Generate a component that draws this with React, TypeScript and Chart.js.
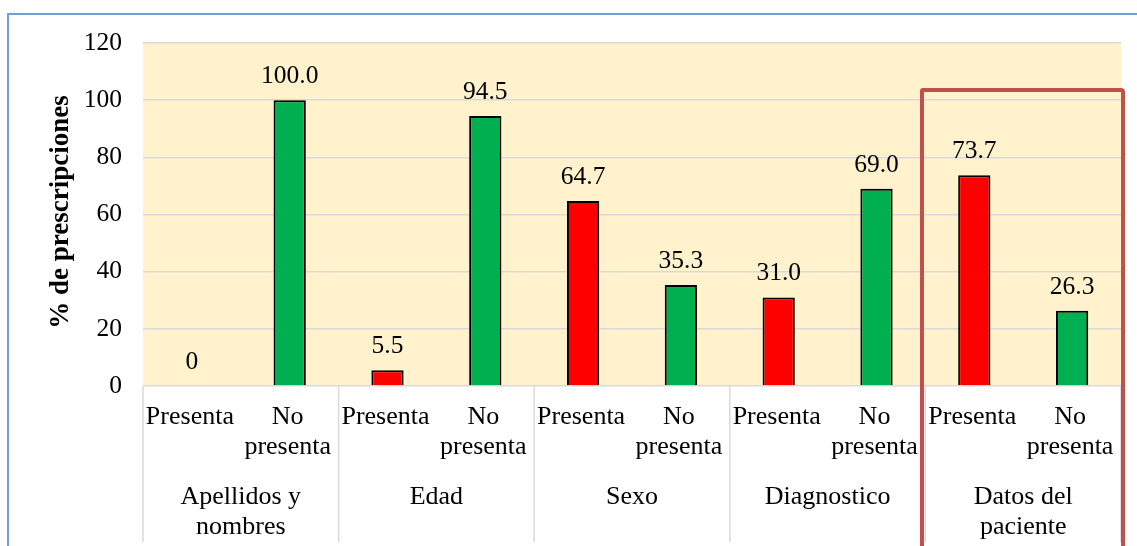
import React, { useEffect, useRef } from "react";
import { Chart, registerables } from "chart.js";

Chart.register(...registerables);

const groups: string[][] = [
  ["Apellidos y", "nombres"],
  ["Edad"],
  ["Sexo"],
  ["Diagnostico"],
  ["Datos del", "paciente"],
];
const subLabels: string[][] = [["Presenta"], ["No", "presenta"]];
const values: number[] = [0, 100.0, 5.5, 94.5, 64.7, 35.3, 31.0, 69.0, 73.7, 26.3];
const barColors: string[] = ["#FF0000", "#00B050"];
const yTitle = "% de prescripciones";
const yMin = 0;
const yMax = 120;
const yStep = 20;

const FONT = "'Liberation Serif', 'Times New Roman', serif";

export default function App() {
  const ref = useRef<HTMLCanvasElement | null>(null);

  useEffect(() => {
    let chart: any = null;
    let cancelled = false;

    const build = () => {
      if (cancelled || !ref.current) return;
      const labels: string[] = [];
      groups.forEach((g) => subLabels.forEach((s) => labels.push(g.join(" ") + " - " + s.join(" "))));
      const colors = labels.map((_, i) => barColors[i % subLabels.length]);

      const decor = {
        id: "decor",
        beforeDraw(c: any) {
          const { ctx, chartArea: a } = c;
          ctx.save();
          ctx.fillStyle = "#FFF2CC";
          ctx.fillRect(a.left, a.top, a.right - a.left, a.bottom - a.top);
          ctx.restore();
        },
        afterDraw(c: any) {
          const { ctx, chartArea: a } = c;
          const x = c.scales.x;
          const y = c.scales.y;
          const meta = c.getDatasetMeta(0);
          ctx.save();
          ctx.fillStyle = "#000";
          ctx.font = `25.5px ${FONT}`;
          ctx.textAlign = "center";
          ctx.textBaseline = "alphabetic";
          meta.data.forEach((bar: any, i: number) => {
            const v = values[i];
            const txt = v === 0 ? "0" : v.toFixed(1);
            ctx.fillText(txt, bar.x, y.getPixelForValue(v) - 17);
          });
          const n = groups.length;
          const per = subLabels.length;
          const catW = (a.right - a.left) / (n * per);
          ctx.strokeStyle = "#D9D9D9";
          ctx.lineWidth = 1.5;
          for (let k = 0; k <= n; k++) {
            const sx = a.left + k * catW * per;
            ctx.beginPath();
            ctx.moveTo(sx, a.bottom);
            ctx.lineTo(sx, 542);
            ctx.stroke();
          }
          ctx.fillStyle = "#000";
          ctx.font = `26px ${FONT}`;
          for (let i = 0; i < n * per; i++) {
            const cx = x.getPixelForValue(i) - 2;
            const lines = subLabels[i % per];
            lines.forEach((l, j) => ctx.fillText(l, cx, a.bottom + 38 + j * 30));
          }
          for (let g = 0; g < n; g++) {
            const cx = a.left + (g + 0.5) * catW * per;
            groups[g].forEach((l, j) => ctx.fillText(l, cx, a.bottom + 118 + j * 30));
          }
          ctx.save();
          ctx.translate(68, 212);
          ctx.rotate(-Math.PI / 2);
          ctx.font = `bold 27px ${FONT}`;
          ctx.textBaseline = "alphabetic";
          ctx.fillText(yTitle, 0, 0);
          ctx.restore();
          ctx.strokeStyle = "#6FA0D8";
          ctx.lineWidth = 2;
          ctx.beginPath();
          ctx.moveTo(1137, 14);
          ctx.lineTo(8, 14);
          ctx.lineTo(8, 546);
          ctx.stroke();
          ctx.strokeStyle = "#C0504D";
          ctx.lineWidth = 4;
          ctx.beginPath();
          ctx.moveTo(922, 560);
          ctx.lineTo(922, 91);
          ctx.arcTo(922, 90, 923, 90, 1);
          ctx.lineTo(1121, 90);
          ctx.arcTo(1123, 90, 1123, 92, 2);
          ctx.lineTo(1123, 560);
          ctx.stroke();
          ctx.restore();
        },
      };

      chart = new Chart(ref.current, {
        type: "bar",
        data: {
          labels,
          datasets: [
            {
              data: values,
              backgroundColor: colors,
              borderColor: "#000",
              borderWidth: 2,
              categoryPercentage: 1,
              barPercentage: 0.33,
            },
          ],
        },
        options: {
          responsive: false,
          animation: false,
          layout: { padding: { top: 43, right: 16, left: 0, bottom: 0 } },
          plugins: { legend: { display: false }, tooltip: { enabled: false }, title: { display: false } },
          scales: {
            x: {
              grid: { display: false },
              border: { display: false },
              ticks: { display: false },
              afterFit(scale: any) {
                scale.height = 160;
              },
            },
            y: {
              min: yMin,
              max: yMax,
              ticks: {
                stepSize: yStep,
                padding: 21,
                color: "#000",
                font: { family: FONT, size: 25.5 },
              },
              grid: { color: "#D9D9D9", lineWidth: 1.5, drawTicks: false },
              border: { display: false },
              afterFit(scale: any) {
                scale.width = 143;
              },
            },
          },
        },
        plugins: [decor],
      });
    };

    const fonts: any = (document as any).fonts;
    if (fonts && fonts.load) {
      Promise.all([
        fonts.load(`25px 'Liberation Serif'`),
        fonts.load(`bold 27px 'Liberation Serif'`),
      ])
        .catch(() => null)
        .then(() => build());
    } else {
      build();
    }
    return () => {
      cancelled = true;
      if (chart) chart.destroy();
    };
  }, []);

  return (
    <div style={{ position: "absolute", left: 0, top: 0, width: 1137, height: 546, background: "#fff" }}>
      <canvas ref={ref} width={1137} height={546} style={{ width: 1137, height: 546, display: "block" }} />
    </div>
  );
}
